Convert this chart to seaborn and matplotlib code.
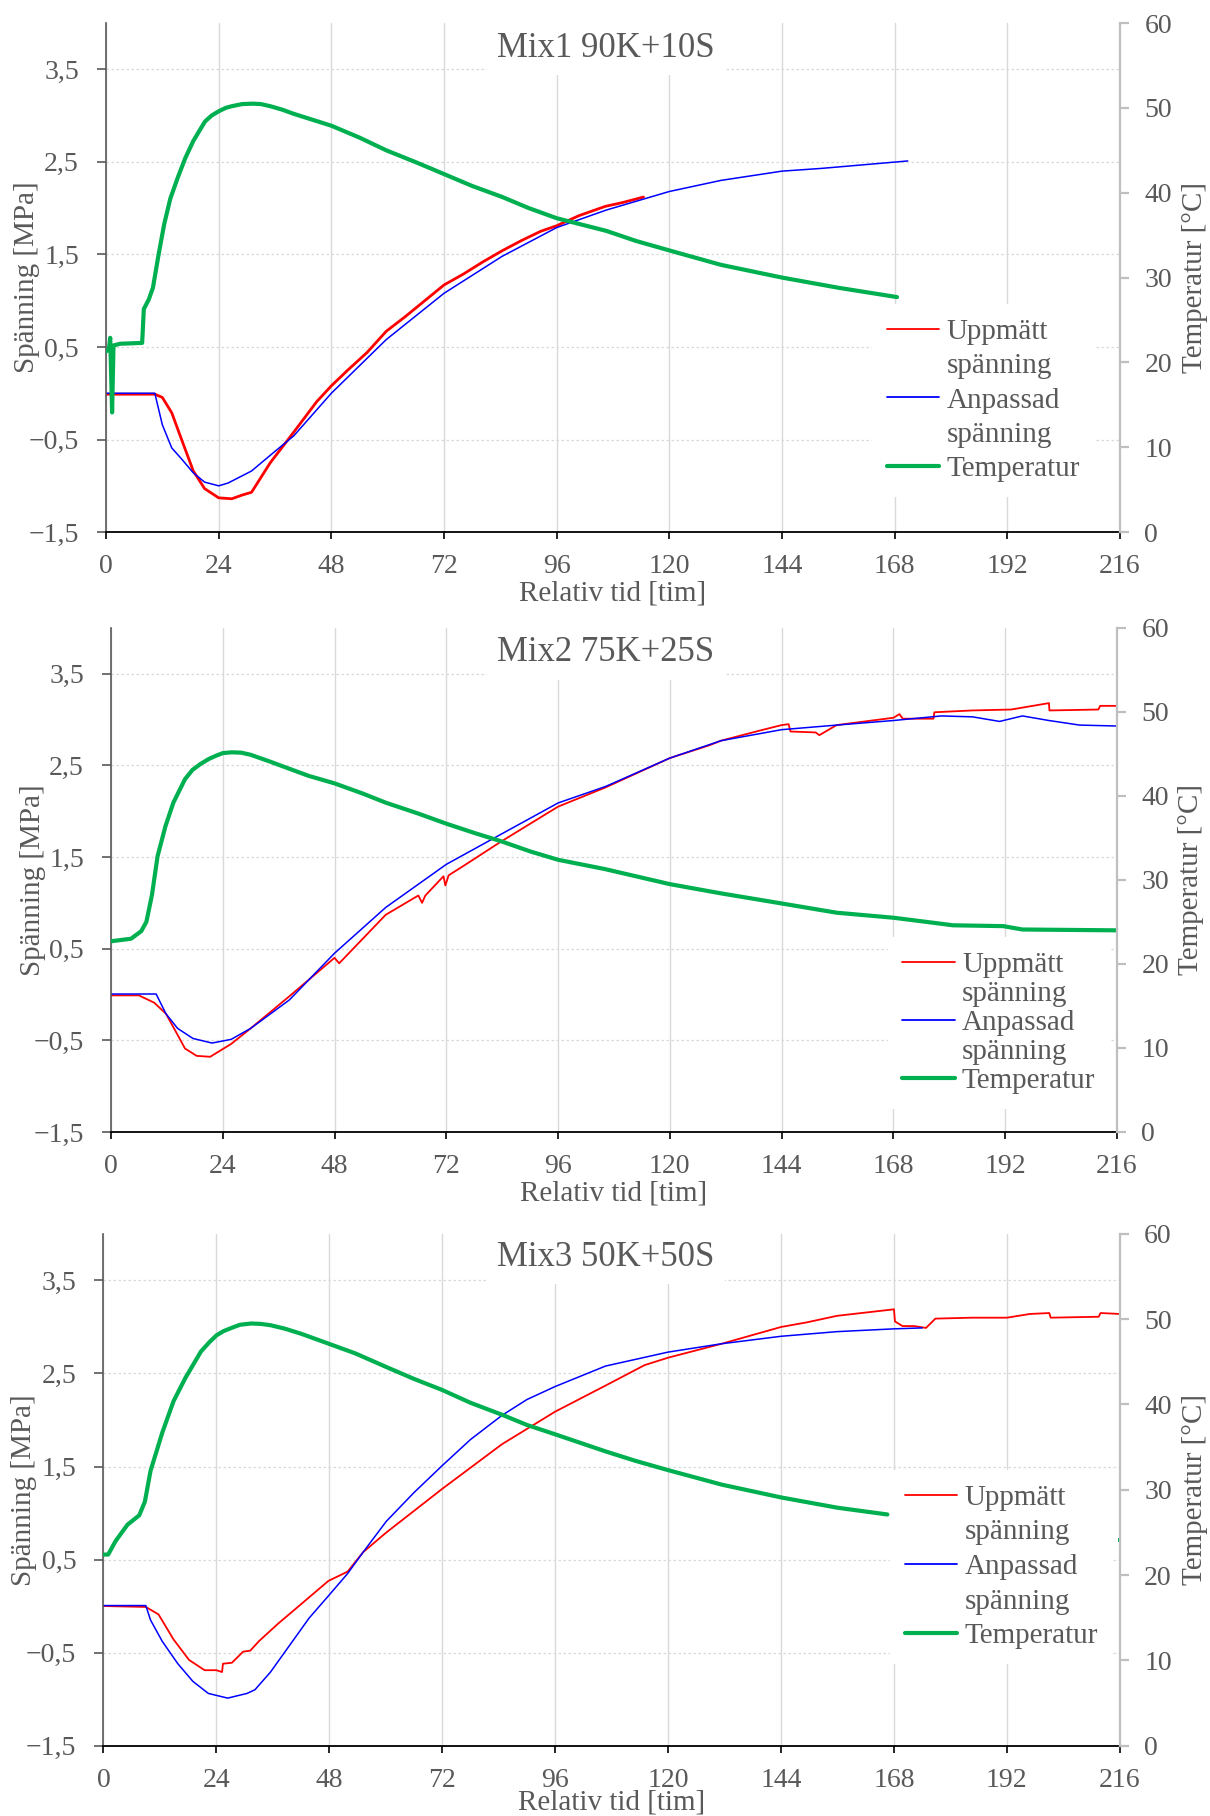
import matplotlib
matplotlib.use("Agg")
import matplotlib.pyplot as plt
from matplotlib.lines import Line2D
import seaborn as sns

# ---- Mix1 90K+10S ----
mix1_upp_t = [0, 5, 10.4, 12, 14, 16.1, 18.6, 21, 24, 26.8, 29, 31, 35, 40, 44.9, 48, 51.5, 55.6,
              59.7, 63.8, 67.9, 72, 76.2, 80.3, 84.4, 88.5, 92.6, 96, 100.8, 106.4, 110, 114.5]
mix1_upp_v = [-0.01, -0.01, -0.01, -0.045, -0.21, -0.50, -0.84, -1.03, -1.13, -1.14, -1.10, -1.07,
              -0.75, -0.42, -0.09, 0.08, 0.25, 0.44, 0.67, 0.83, 1.00, 1.17, 1.29, 1.42, 1.54, 1.65,
              1.75, 1.81, 1.92, 2.02, 2.06, 2.12]
mix1_anp_t = [0, 10.4, 12, 14, 16.1, 18.6, 21, 24, 26, 31, 35, 40, 48, 59.7, 72, 84.4, 96, 106.6,
              120, 131, 144, 152.5, 170.8]
mix1_anp_v = [0.0, 0.0, -0.34, -0.59, -0.71, -0.86, -0.96, -1.0, -0.97, -0.84, -0.67, -0.46, 0.0,
              0.58, 1.08, 1.48, 1.79, 1.98, 2.18, 2.30, 2.40, 2.43, 2.51]
mix1_temp_t = [0, 0.6, 0.9, 1.3, 1.6, 3, 7.7, 8.06, 9.1, 10.0, 11.2, 12.4, 13.7, 15.3, 16.9, 18.6,
               20, 21.1, 22.5, 24.0, 25.5, 26.8, 29, 31.3, 33, 35, 37.5, 40, 44, 48, 54, 59.7, 66,
               72, 78, 84.4, 90, 96, 106.6, 113, 120, 131, 144, 149, 156, 168.5]
mix1_temp_v = [21.3, 21.5, 22.9, 14.1, 22.0, 22.2, 22.3, 26.3, 27.4, 28.8, 32.7, 36.3, 39.3, 41.8,
               44.1, 46.1, 47.4, 48.4, 49.1, 49.6, 50.0, 50.2, 50.45, 50.5, 50.45, 50.2, 49.8,
               49.3, 48.6, 47.9, 46.5, 45.0, 43.6, 42.2, 40.8, 39.5, 38.2, 37.0, 35.5, 34.3, 33.2,
               31.5, 30.0, 29.5, 28.8, 27.7]

# ---- Mix2 75K+25S ----
mix2_upp_t = [0, 6, 9.3, 11.8, 14.3, 15.9, 18.4, 21.3, 25.8, 30, 38.3, 48, 49, 59, 66, 66.8, 67.5,
              71.4, 71.8, 72.5, 75.6, 83.8, 96, 106.2, 120, 128.5, 131, 139.3, 144, 145.5, 145.9,
              151.3, 152.1, 155.8, 168, 169.3, 170, 176.6, 176.8, 185, 193.3, 201.4, 201.5, 212,
              212.4, 216]
mix2_upp_v = [-0.01, -0.01, -0.09, -0.21, -0.44, -0.59, -0.67, -0.68, -0.54, -0.37, -0.02, 0.40,
              0.34, 0.87, 1.08, 1.00, 1.08, 1.29, 1.19, 1.30, 1.40, 1.67, 2.05, 2.26, 2.58, 2.72,
              2.77, 2.88, 2.94, 2.95, 2.87, 2.86, 2.83, 2.94, 3.02, 3.06, 3.01, 3.01, 3.08, 3.10,
              3.11, 3.18, 3.10, 3.11, 3.15, 3.15]
mix2_anp_t = [0, 9.7, 11.8, 14.3, 17.6, 21.7, 25.8, 30, 38.3, 48, 59, 72, 83.8, 96, 106.2, 120,
              131, 144, 155.8, 168, 178.3, 185, 190.8, 195.7, 201.4, 208, 216]
mix2_anp_v = [0.005, 0.005, -0.21, -0.37, -0.48, -0.53, -0.49, -0.37, -0.06, 0.45, 0.95, 1.42,
              1.75, 2.09, 2.27, 2.58, 2.77, 2.89, 2.94, 2.99, 3.04, 3.03, 2.98, 3.04, 2.99, 2.94,
              2.93]
mix2_temp_t = [0, 4.3, 6.5, 7.6, 8.8, 10.0, 11.7, 13.4, 15.9, 17.5, 19.2, 21, 22.6, 24, 26, 28, 30,
               34.1, 38, 42.4, 48, 54, 59, 66, 72, 78, 83.8, 90, 96, 106, 113, 120, 131, 144,
               155.8, 168, 176.6, 180.8, 191.6, 195.7, 216]
mix2_temp_v = [22.7, 23.0, 23.9, 25.0, 28.2, 32.8, 36.4, 39.2, 42.0, 43.1, 43.8, 44.4, 44.8, 45.1,
               45.2, 45.15, 44.9, 44.1, 43.3, 42.4, 41.5, 40.3, 39.2, 37.9, 36.7, 35.6, 34.6, 33.4,
               32.4, 31.3, 30.4, 29.5, 28.4, 27.2, 26.1, 25.5, 24.9, 24.6, 24.5, 24.1, 24.0]

# ---- Mix3 50K+50S ----
mix3_upp_t = [0, 9, 11.7, 14.9, 18.2, 21.5, 24, 25.2, 25.4, 27.3, 29.7, 31.2, 33, 37.1, 42, 47.8,
              51.9, 55.2, 60.1, 72, 84.7, 96, 106.7, 115, 120, 131.4, 144, 149.5, 155.9, 168,
              168.2, 169.8, 172.3, 174.8, 176.8, 184.6, 192, 196.9, 201, 201.3, 211.5, 211.9, 216]
mix3_upp_v = [0.0, -0.01, -0.09, -0.36, -0.58, -0.69, -0.69, -0.71, -0.62, -0.61, -0.49, -0.48,
              -0.38, -0.19, 0.02, 0.27, 0.37, 0.58, 0.79, 1.26, 1.74, 2.09, 2.37, 2.59, 2.67, 2.82,
              3.00, 3.05, 3.12, 3.19, 3.06, 3.01, 3.01, 2.99, 3.09, 3.10, 3.10, 3.14, 3.15, 3.10,
              3.11, 3.15, 3.14]
mix3_anp_t = [0, 9, 10, 12.5, 15.8, 19, 22.3, 26.4, 30.5, 32.2, 35.5, 39.6, 43.7, 48, 51.9, 55.2,
              60.1, 66, 72, 78, 84.7, 90, 96, 106.7, 120, 131.4, 144, 155.9, 168, 174]
mix3_anp_v = [0.005, 0.005, -0.15, -0.38, -0.62, -0.81, -0.94, -0.99, -0.94, -0.90, -0.71, -0.42,
              -0.13, 0.12, 0.35, 0.58, 0.91, 1.22, 1.51, 1.79, 2.05, 2.22, 2.36, 2.58, 2.73, 2.82,
              2.90, 2.95, 2.98, 2.99]
mix3_temp_t = [0, 1, 2.6, 5.1, 7.6, 8.8, 10, 12.5, 14.9, 17.4, 20.7, 22.5, 24, 25.5, 27.3, 29, 31.4,
               33.5, 35.5, 38.5, 42, 48, 53.5, 60.1, 66, 72, 78, 84.7, 90, 96, 106.7, 113, 120,
               131.4, 144, 155.9, 166.6]
mix3_temp_v = [22.4, 22.4, 24.0, 25.9, 27.0, 28.6, 32.2, 36.7, 40.4, 43.1, 46.2, 47.3, 48.1, 48.6,
               49.0, 49.35, 49.5, 49.45, 49.3, 48.9, 48.3, 47.1, 46.0, 44.4, 43.0, 41.7, 40.2, 38.8,
               37.6, 36.5, 34.5, 33.4, 32.3, 30.6, 29.1, 27.9, 27.1]
mix3_temp_last_t = [216]
mix3_temp_last_v = [24.05]

titles = ["Mix1 90K+10S", "Mix2 75K+25S", "Mix3 50K+50S"]
x_ticks = list(range(0, 217, 24))
y_ticks = [-1.5, -0.5, 0.5, 1.5, 2.5, 3.5]
y_tick_labels = ["\u22121,5", "\u22120,5", "0,5", "1,5", "2,5", "3,5"]
t_ticks = list(range(0, 61, 10))
legend_labels = ["Uppmätt", "spänning", "Anpassad", "spänning", "Temperatur"]

RED = "#ff0000"
BLUE = "#0000ff"
GREEN = "#00b050"
GREY = "#595959"

sns.set_style("ticks")
plt.rcParams["font.family"] = ["Liberation Serif", "DejaVu Serif"]

fig = plt.figure(figsize=(12.1, 18.16), dpi=100)


def draw_panel(rect, title, title_xy, upp, anp, temp, leg_xy, leg_spacing, upp_lw,
               xlabel_pad=1, extra=None):
    ax = fig.add_axes(rect)
    ax2 = ax.twinx()

    sns.lineplot(x=upp[0], y=upp[1], ax=ax, color=RED, linewidth=upp_lw, estimator=None, sort=False)
    sns.lineplot(x=anp[0], y=anp[1], ax=ax, color=BLUE, linewidth=1.1, estimator=None, sort=False)
    sns.lineplot(x=temp[0], y=temp[1], ax=ax2, color=GREEN, linewidth=3.0, estimator=None, sort=False)
    if extra is not None:
        sns.scatterplot(x=extra[0], y=extra[1], ax=ax2, color=GREEN, marker="s", s=12, linewidth=0)

    ax.set_xlim(0, 216)
    ax.set_ylim(-1.5, 4.0)
    ax2.set_ylim(0, 60)
    ax.set_xticks(x_ticks)
    ax.set_yticks(y_ticks)
    ax.set_yticklabels(y_tick_labels)
    ax2.set_yticks(t_ticks)

    ax.set_axisbelow(True)
    ax.grid(axis="x", color="#d9d9d9", linewidth=1.0, linestyle="-")
    ax.grid(axis="y", color="#d9d9d9", linewidth=0.9, linestyle=(0, (2, 2)))
    ax2.grid(False)

    for s in ["top", "right"]:
        ax.spines[s].set_visible(False)
    for s in ["top", "left", "bottom"]:
        ax2.spines[s].set_visible(False)
    ax.spines["left"].set_color(GREY)
    ax.spines["left"].set_linewidth(1.2)
    ax.spines["bottom"].set_color("black")
    ax.spines["bottom"].set_linewidth(1.3)
    ax2.spines["right"].set_color("#bfbfbf")
    ax2.spines["right"].set_linewidth(1.6)

    ax.tick_params(axis="x", direction="out", length=5, width=1.2, color="black",
                   labelcolor=GREY, labelsize=20, pad=11)
    ax.tick_params(axis="y", direction="out", length=6.5, width=1.2, color=GREY,
                   labelcolor=GREY, labelsize=20, pad=13)
    ax2.tick_params(axis="y", direction="out", length=6.5, width=1.6, color="#bfbfbf",
                    labelcolor=GREY, labelsize=20, pad=11)

    ax.set_xlabel("Relativ tid [tim]", fontsize=21, color=GREY, labelpad=xlabel_pad)
    ax.set_ylabel("Spänning [MPa]", fontsize=21, color=GREY)
    ax.yaxis.set_label_coords(-0.065, 0.5)
    ax2.set_ylabel("Temperatur [°C]", fontsize=21, color=GREY)
    ax2.yaxis.set_label_coords(1.061, 0.5)

    ax.text(title_xy[0], title_xy[1], title, transform=ax.transAxes, ha="center", va="center",
            fontsize=25, color=GREY, zorder=5,
            bbox=dict(boxstyle="square,pad=0.3", facecolor="white", edgecolor="none"))

    blank = Line2D([0], [0], color="none")
    handles = [Line2D([0], [0], color=RED, linewidth=1.3), blank,
               Line2D([0], [0], color=BLUE, linewidth=1.3), blank,
               Line2D([0], [0], color=GREEN, linewidth=3.0)]
    leg = ax2.legend(handles, legend_labels, loc="upper left", bbox_to_anchor=leg_xy,
                     fontsize=21, labelcolor=GREY, frameon=True, facecolor="white",
                     edgecolor="none", framealpha=1, fancybox=False, handlelength=1.8,
                     handletextpad=0.25, labelspacing=leg_spacing, borderpad=0.5,
                     borderaxespad=0)
    leg.set_zorder(10)
    return ax, ax2


draw_panel([0.0876, 0.7070, 0.8380, 0.2803], titles[0], (0.493, 0.951),
           (mix1_upp_t, mix1_upp_v), (mix1_anp_t, mix1_anp_v), (mix1_temp_t, mix1_temp_v),
           (0.7554, 0.448), 0.27, 2.0)
draw_panel([0.0917, 0.3767, 0.8314, 0.2775], titles[1], (0.492, 0.951),
           (mix2_upp_t, mix2_upp_v), (mix2_anp_t, mix2_anp_v), (mix2_temp_t, mix2_temp_v),
           (0.772, 0.387), 0.09, 1.3)
draw_panel([0.0855, 0.0388, 0.8400, 0.2817], titles[2], (0.494, 0.954),
           (mix3_upp_t, mix3_upp_v), (mix3_anp_t, mix3_anp_v), (mix3_temp_t, mix3_temp_v),
           (0.774, 0.539), 0.28, 1.3, xlabel_pad=-2.5,
           extra=(mix3_temp_last_t, mix3_temp_last_v))

fig.savefig("out.png", dpi=100)
